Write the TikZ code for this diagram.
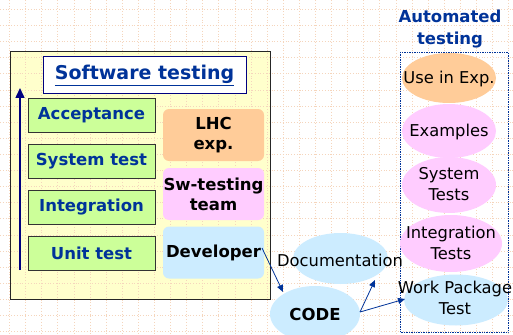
\documentclass[tikz,border=0pt]{standalone}
\usepackage{fontspec}
\setmainfont{DejaVu Sans}
\usetikzlibrary{shapes.geometric,arrows.meta}
\definecolor{gridc}{HTML}{F5D5BC}
\definecolor{paleyel}{HTML}{FFFFCC}
\definecolor{lgreen}{HTML}{CCFF99}
\definecolor{peach}{HTML}{FFCC99}
\definecolor{pinkc}{HTML}{FFCCFF}
\definecolor{lblue}{HTML}{CCECFF}
\definecolor{navy}{HTML}{003399}
\definecolor{darknavy}{HTML}{000080}
\tikzset{
  levelbox/.style={draw=black!80, line width=0.8pt, fill=lgreen, minimum width=127pt, minimum height=34pt, inner sep=0pt, font=\fontsize{16.5}{18}\selectfont\bfseries, text=navy},
  rolebox/.style={fill=#1, rounded corners=6pt, minimum width=101pt, minimum height=52pt, inner sep=0pt, align=center, font=\fontsize{16.5}{20}\selectfont\bfseries},
  ell/.style={ellipse, fill=#1, inner sep=0pt},
  elltext/.style={align=center, font=\fontsize{16.3}{21}\selectfont, inner sep=0pt},
  link/.style={draw=navy, line width=0.8pt, -{Triangle[length=7pt,width=6pt]}}
}
\begin{document}
\begin{tikzpicture}[x=1pt,y=-1pt]
\useasboundingbox (0,0) rectangle (513,334);
\fill[white] (0,0) rectangle (513,334);
% yellow main box
\draw[fill=paleyel, draw=black!85, line width=1pt] (10,52) rectangle (270,299);
% grid
\foreach \k in {0,...,31} {
  \draw[gridc, dotted, line width=0.8pt] (9.5+16.1*\k,0) -- (9.5+16.1*\k,334);
}
\foreach \k in {0,...,20} {
  \draw[gridc, dotted, line width=0.8pt] (0,9.5+16.1*\k) -- (513,9.5+16.1*\k);
}
\draw[draw=black!85, line width=1pt] (10,52) rectangle (270,299);
% title
\node[draw=darknavy, line width=1pt, fill=white, minimum width=203pt, minimum height=37pt, inner sep=0pt, text=navy, font=\fontsize{19}{21}\selectfont\bfseries] (title) at (144.5,75.5) {\underline{Software testing}};
% arrow
\coordinate (ab) at (20,270);
\coordinate (at) at (20,88);
\draw[darknavy, line width=1.5pt, -{Triangle[length=10pt,width=9pt]}] (ab) -- (at);
% levels
\node[levelbox] (acc) at (91.5,115) {Acceptance};
\node[levelbox] (sys) at (91.5,161) {System test};
\node[levelbox] (int) at (91.5,207.5) {Integration};
\node[levelbox] (unit) at (91.5,253) {Unit test};
% roles
\node[rolebox=peach] (lhc) at (213.5,135) {LHC\\exp.};
\node[rolebox=pinkc] (sw) at (213.5,194) {Sw-testing\\team};
\node[rolebox=lblue] (dev) at (213.5,252.5) {Developer};
% automated testing
\node[text=navy, align=center, font=\fontsize{16.5}{22}\selectfont\bfseries] (auto) at (450,29) {Automated\\testing};
\draw[navy, densely dotted, line width=0.7pt] (400,52) rectangle (508,332);
\node[ell=peach, minimum width=94pt, minimum height=50pt] (use) at (449,78) {};
\node[elltext] (uset) at (449,79) {Use in Exp.};
\node[ell=pinkc, minimum width=94pt, minimum height=54pt] (ex) at (449,131) {};
\node[elltext] (ext) at (449,132) {Examples};
\node[ell=pinkc, minimum width=94pt, minimum height=56pt] (st) at (449,185) {};
\node[elltext] (stt) at (449,184) {System\\Tests};
\node[ell=pinkc, minimum width=102pt, minimum height=57pt] (it) at (451,243.5) {};
\node[elltext] (itt) at (451,243) {Integration\\Tests};
\node[ell=lblue, minimum width=104pt, minimum height=51pt] (wp) at (456,300) {};
\node[elltext] (wpt) at (455,298) {Work Package\\Test};
% code and documentation
\node[ell=lblue, minimum width=95pt, minimum height=51pt] (doc) at (340.5,258.5) {};
\node[elltext] (doct) at (340,260) {Documentation};
\node[ell=lblue, minimum width=90pt, minimum height=56pt] (code) at (315,314) {};
\node[font=\fontsize{16.5}{18}\selectfont\bfseries] (codet) at (315,314) {CODE};
% links
\coordinate (devout) at (262,248);
\coordinate (codein) at (283,292);
\coordinate (codeout) at (360,312);
\coordinate (docin) at (375,280);
\coordinate (wpin) at (405,299);
\draw[link] (devout) -- (codein);
\draw[link] (codeout) -- (docin);
\draw[link] (codeout) -- (wpin);
\end{tikzpicture}
\end{document}
